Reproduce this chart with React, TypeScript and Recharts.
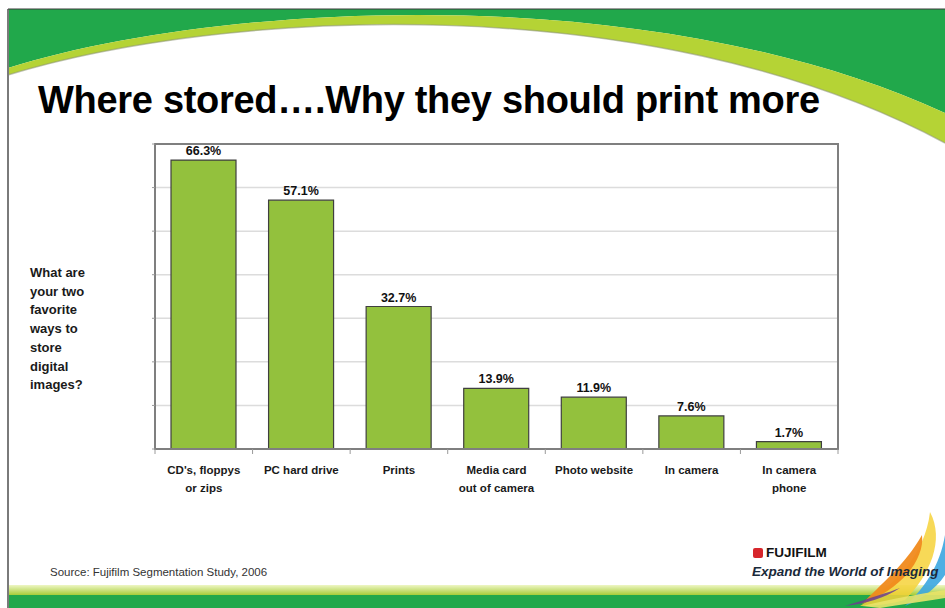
import React from 'react';
import { BarChart, Bar, XAxis, YAxis, CartesianGrid, LabelList, ReferenceArea } from 'recharts';

const categories = [
  "CD's, floppys\nor zips",
  'PC hard drive',
  'Prints',
  'Media card\nout of camera',
  'Photo website',
  'In camera',
  'In camera\nphone',
];
const shares = [66.3, 57.1, 32.7, 13.9, 11.9, 7.6, 1.7];
const yTicks = [0, 10, 20, 30, 40, 50, 60, 70];
const question = ['What are', 'your two', 'favorite', 'ways to', 'store', 'digital', 'images?'];

const data = categories.map((name, i) => ({ name, value: shares[i] }));

const W = 945;
const H = 608;
const margin = { top: 144, right: 107, bottom: 99, left: 145 };
const plotWidth = W - margin.left - 10 - margin.right;
const band = plotWidth / categories.length;
const font = '"Liberation Sans", Arial, sans-serif';

const CategoryTick = (props: any) => {
  const { x, y, payload, index } = props;
  const lines = String(payload.value).split('\n');
  return (
    <g>
      <line x1={x - band / 2} x2={x - band / 2} y1={y} y2={y + 5} stroke="#9a9a9a" />
      {index === categories.length - 1 && (
        <line x1={x + band / 2} x2={x + band / 2} y1={y} y2={y + 5} stroke="#9a9a9a" />
      )}
      <text x={x} y={y + 25} textAnchor="middle" fontSize={11.5} fontWeight="bold" fill="#1a1a1a" fontFamily={font}>
        {lines.map((l, i) => (
          <tspan key={i} x={x} dy={i === 0 ? 0 : 18}>{l}</tspan>
        ))}
      </text>
    </g>
  );
};

const Decoration = () => (
  <svg width={W} height={H} style={{ position: 'absolute', left: 0, top: 0 }}>
    <rect x={0} y={0} width={W} height={H} fill="#fff" />
    {/* top green swoosh */}
    <path d="M8,9 L945,9 L945,113 C650,-22 220,2 8,68 Z" fill="#21a84b" />
    <path d="M8,68 C220,2 650,-22 945,113 L945,143 C650,-15 220,10 8,75 Z" fill="#b5d335" />
    <path d="M8,75 C220,10 650,-15 945,143" fill="none" stroke="#8c9478" strokeWidth={1.5} opacity={0.55} />
    {/* bottom band */}
    <defs>
      <linearGradient id="lime" x1="0" y1="0" x2="0" y2="1">
        <stop offset="0" stopColor="#eef6c4" />
        <stop offset="1" stopColor="#a6cd38" />
      </linearGradient>
    </defs>
    <rect x={8} y={585} width={W - 8} height={10} fill="url(#lime)" />
    <rect x={8} y={595} width={W - 8} height={H - 595} fill="#21a84b" />
    {/* slide frame */}
    <line x1={8} y1={9} x2={8} y2={H} stroke="#7a7a7a" strokeWidth={2} />
    <line x1={8} y1={9} x2={W} y2={9} stroke="#3a3a3a" strokeWidth={1} />
    {/* logo swoosh */}
    <path d="M930,512 C945,540 930,575 905,600 C890,604 875,606 860,606 C895,585 925,555 930,512 Z" fill="#f6d23a" opacity={0.85} />
    <path d="M922,535 C925,560 900,590 862,604 C880,585 905,565 922,535 Z" fill="#f08a1c" opacity={0.95} />
    <path d="M945,535 L945,575 C935,590 920,600 905,606 C925,588 940,565 945,535 Z" fill="#3ba6e0" opacity={0.9} />
    <path d="M900,588 C885,598 865,604 845,606 C870,598 890,592 900,588 Z" fill="#6b3d8f" opacity={0.85} />
    <path d="M862,606 C895,598 920,594 945,590 L945,598 C925,601 900,605 880,608 Z" fill="#e9e36a" opacity={0.9} />
    <rect x={753} y={548} width={10} height={10} rx={2} fill="#d7262c" />
  </svg>
);

const App: React.FC = () => {
  return (
    <div style={{ position: 'absolute', left: 0, top: 0, width: W, height: H, overflow: 'hidden', fontFamily: font }}>
      <Decoration />
      <div style={{ position: 'absolute', left: 38, top: 79, fontSize: 38, fontWeight: 'bold', color: '#000', whiteSpace: 'nowrap', letterSpacing: -0.3 }}>
        Where stored….Why they should print more
      </div>
      <div style={{ position: 'absolute', left: 30, top: 264, fontSize: 13, fontWeight: 'bold', lineHeight: '18.7px', color: '#1a1a1a' }}>
        {question.map((q) => (
          <div key={q}>{q}</div>
        ))}
      </div>
      <div style={{ position: 'absolute', left: 50, top: 566, fontSize: 11.5, color: '#333', whiteSpace: 'nowrap' }}>
        Source: Fujifilm Segmentation Study, 2006
      </div>
      <div style={{ position: 'absolute', left: 766, top: 545, fontSize: 13.5, fontWeight: 'bold', color: '#111' }}>FUJIFILM</div>
      <div style={{ position: 'absolute', left: 752, top: 564, fontSize: 13.5, fontWeight: 'bold', fontStyle: 'italic', color: '#1a2a3a', whiteSpace: 'nowrap' }}>
        Expand the World of Imaging
      </div>
      <div style={{ position: 'absolute', left: 0, top: 0 }}>
        <BarChart width={W} height={H} data={data} margin={margin}>
          <CartesianGrid vertical={false} stroke="#dcdcdc" strokeWidth={1.5} />
          <ReferenceArea y1={0} y2={70} fill="none" stroke="#7f7f7f" strokeWidth={2} ifOverflow="visible" />
          <XAxis
            dataKey="name"
            interval={0}
            height={60}
            tickLine={false}
            tickSize={0}
            tickMargin={0}
            axisLine={{ stroke: '#7f7f7f', strokeWidth: 2 }}
            tick={<CategoryTick />}
          />
          <YAxis
            domain={[0, 70]}
            ticks={yTicks}
            width={10}
            tickSize={3}
            tickFormatter={() => ''}
            tickLine={{ stroke: '#9a9a9a' }}
            axisLine={{ stroke: '#7f7f7f', strokeWidth: 2 }}
          />
          <Bar dataKey="value" fill="#93c13d" stroke="#3f3f3f" strokeWidth={1.2} barSize={65} isAnimationActive={false}>
            <LabelList
              dataKey="value"
              position="top"
              offset={5}
              formatter={(v: any) => `${v}%`}
              style={{ fontSize: 12.5, fontWeight: 'bold', fill: '#111', fontFamily: font }}
            />
          </Bar>
        </BarChart>
      </div>
    </div>
  );
};

export default App;
